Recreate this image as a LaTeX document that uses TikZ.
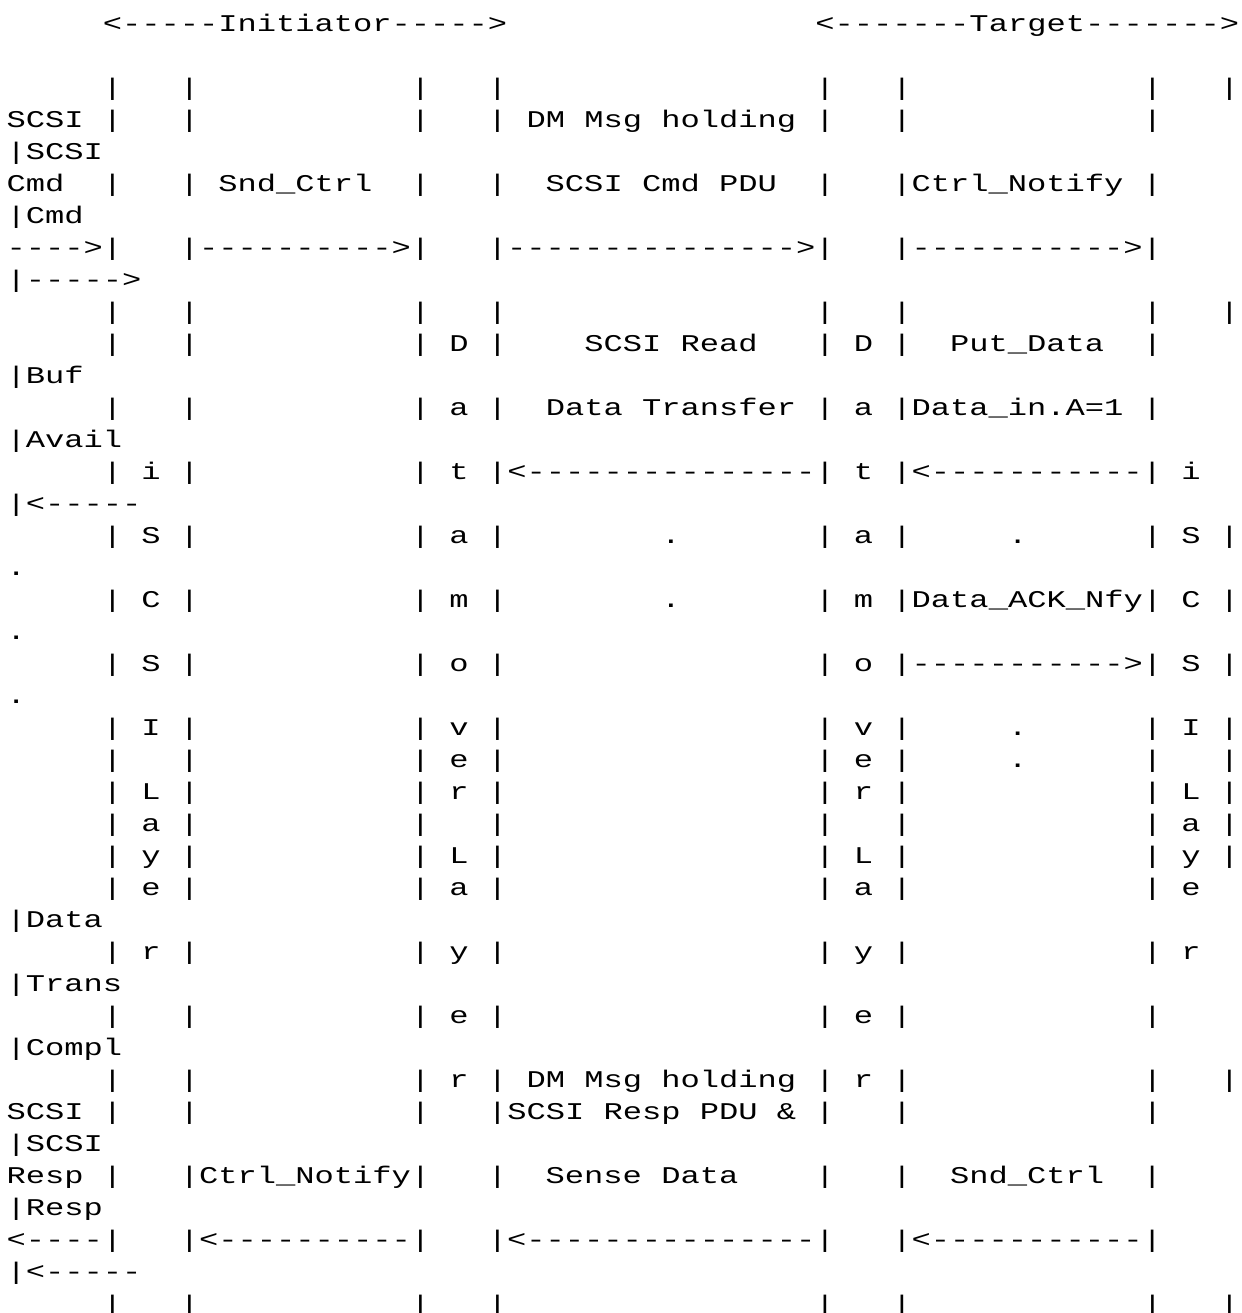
\documentclass[tikz,border=0pt]{standalone}
\usepackage{fontspec}
\setmonofont{Liberation Mono}[FakeStretch=1.3373]
\newcommand\bl[1]{\kern#1\fontcharwd\font`x\relax}
\newcommand\monoset{\ttfamily\fontsize{24pt}{32pt}\selectfont\frenchspacing
  \spaceskip=\fontcharwd\font`x\relax}
\begin{document}
\begin{tikzpicture}[x=1pt,y=1pt,
  txt/.style={anchor=base west, inner sep=0pt, outer sep=0pt, font=\monoset}]
\fill[white] (0,0) rectangle (1241,1313);
\useasboundingbox (0,0) rectangle (1241,1313);
\def\xo{6.5}
\node[txt] (l0)  at (\xo,1281) {\bl5<-----Initiator----->\bl{16}<-------Target------->};
\node[txt] (l2)  at (\xo,1217) {\bl5|\bl3|\bl{11}|\bl3|\bl{16}|\bl3|\bl{12}|\bl3|};
\node[txt] (l3)  at (\xo,1185) {SCSI\bl1|\bl3|\bl{11}|\bl3| DM Msg holding |\bl3|\bl{12}|};
\node[txt] (l4)  at (\xo,1153) {|SCSI};
\node[txt] (l5)  at (\xo,1121) {Cmd\bl2|\bl3| Snd\_Ctrl\bl2|\bl3|\bl2SCSI Cmd PDU\bl2|\bl3|Ctrl\_Notify |};
\node[txt] (l6)  at (\xo,1089) {|Cmd};
\node[txt] (l7)  at (\xo,1057) {---->|\bl3|---------->|\bl3|--------------->|\bl3|----------->|};
\node[txt] (l8)  at (\xo,1025) {|----->};
\node[txt] (l9)  at (\xo,993)  {\bl5|\bl3|\bl{11}|\bl3|\bl{16}|\bl3|\bl{12}|\bl3|};
\node[txt] (l10) at (\xo,961)  {\bl5|\bl3|\bl{11}| D |\bl4SCSI Read\bl3| D |\bl2Put\_Data\bl2|};
\node[txt] (l11) at (\xo,929)  {|Buf};
\node[txt] (l12) at (\xo,897)  {\bl5|\bl3|\bl{11}| a |\bl2Data Transfer | a |Data\_in.A=1 |};
\node[txt] (l13) at (\xo,865)  {|Avail};
\node[txt] (l14) at (\xo,833)  {\bl5| i |\bl{11}| t |<---------------| t |<-----------| i};
\node[txt] (l15) at (\xo,801)  {|<-----};
\node[txt] (l16) at (\xo,769)  {\bl5| S |\bl{11}| a |\bl8.\bl7| a |\bl5.\bl6| S |};
\node[txt] (l17) at (\xo,737)  {.};
\node[txt] (l18) at (\xo,705)  {\bl5| C |\bl{11}| m |\bl8.\bl7| m |Data\_ACK\_Nfy| C |};
\node[txt] (l19) at (\xo,673)  {.};
\node[txt] (l20) at (\xo,641)  {\bl5| S |\bl{11}| o |\bl{16}| o |----------->| S |};
\node[txt] (l21) at (\xo,609)  {.};
\node[txt] (l22) at (\xo,577)  {\bl5| I |\bl{11}| v |\bl{16}| v |\bl5.\bl6| I |};
\node[txt] (l23) at (\xo,545)  {\bl5|\bl3|\bl{11}| e |\bl{16}| e |\bl5.\bl6|\bl3|};
\node[txt] (l24) at (\xo,513)  {\bl5| L |\bl{11}| r |\bl{16}| r |\bl{12}| L |};
\node[txt] (l25) at (\xo,481)  {\bl5| a |\bl{11}|\bl3|\bl{16}|\bl3|\bl{12}| a |};
\node[txt] (l26) at (\xo,449)  {\bl5| y |\bl{11}| L |\bl{16}| L |\bl{12}| y |};
\node[txt] (l27) at (\xo,417)  {\bl5| e |\bl{11}| a |\bl{16}| a |\bl{12}| e};
\node[txt] (l28) at (\xo,385)  {|Data};
\node[txt] (l29) at (\xo,353)  {\bl5| r |\bl{11}| y |\bl{16}| y |\bl{12}| r};
\node[txt] (l30) at (\xo,321)  {|Trans};
\node[txt] (l31) at (\xo,289)  {\bl5|\bl3|\bl{11}| e |\bl{16}| e |\bl{12}|};
\node[txt] (l32) at (\xo,257)  {|Compl};
\node[txt] (l33) at (\xo,225)  {\bl5|\bl3|\bl{11}| r | DM Msg holding | r |\bl{12}|\bl3|};
\node[txt] (l34) at (\xo,193)  {SCSI\bl1|\bl3|\bl{11}|\bl3|SCSI Resp PDU \& |\bl3|\bl{12}|};
\node[txt] (l35) at (\xo,161)  {|SCSI};
\node[txt] (l36) at (\xo,129)  {Resp\bl1|\bl3|Ctrl\_Notify|\bl3|\bl2Sense Data\bl4|\bl3|\bl2Snd\_Ctrl\bl2|};
\node[txt] (l37) at (\xo,97)   {|Resp};
\node[txt] (l38) at (\xo,65)   {<----|\bl3|<----------|\bl3|<---------------|\bl3|<-----------|};
\node[txt] (l39) at (\xo,33)   {|<-----};
\node[txt] (l40) at (\xo,1)    {\bl5|\bl3|\bl{11}|\bl3|\bl{16}|\bl3|\bl{12}|\bl3|};
\end{tikzpicture}
\end{document}
